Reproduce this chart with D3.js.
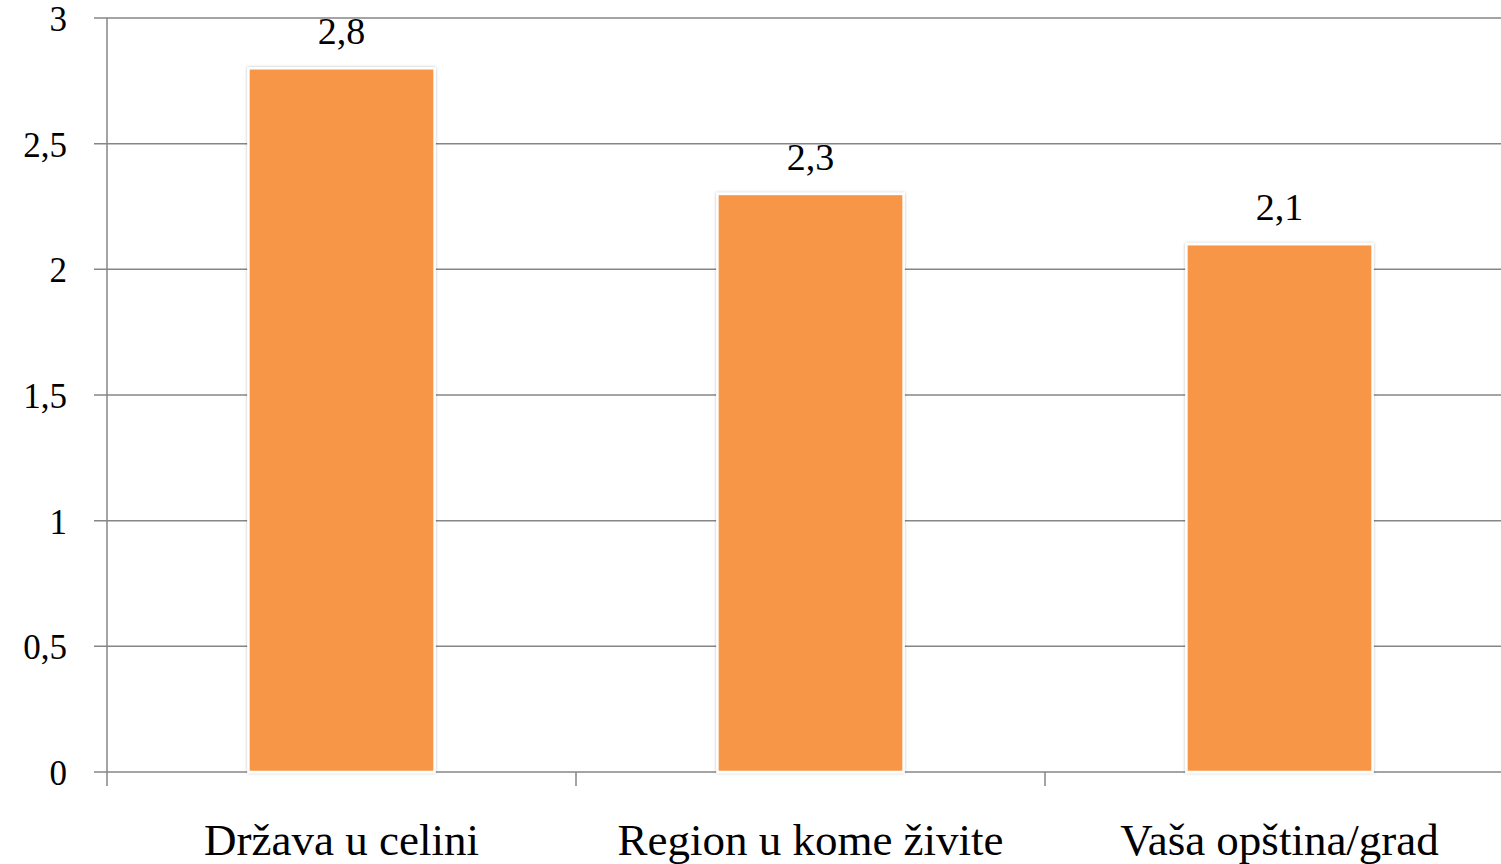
<!DOCTYPE html>
<html><head><meta charset="utf-8">
<script src="https://cdn.jsdelivr.net/npm/d3@7"></script>
<style>
html,body{margin:0;padding:0;background:#fff;overflow:hidden}
text{font-family:"Liberation Serif","DejaVu Serif",serif;fill:#000}
</style></head>
<body><svg id="c" width="1501" height="864"></svg>
<script>
const categories = ["Država u celini", "Region u kome živite", "Vaša opština/grad"];
const values = [2.8, 2.3, 2.1];
const yTicks = [0, 0.5, 1, 1.5, 2, 2.5, 3];
const fmt = v => String(v).replace(".", ",");

(function(){
const svg = d3.select("#c");
const plotLeft = 107, plotBottom = 772, plotTop = 18, bandW = 469;
const x = d3.scaleBand().domain(categories).range([plotLeft, plotLeft + bandW * categories.length]).padding(0);
const y = d3.scaleLinear().domain([0, 3]).range([plotBottom, plotTop]);
const barFrac = 0.397;

// gridlines
svg.append("g").selectAll("line").data(yTicks).join("line")
  .attr("x1", plotLeft - 13).attr("x2", 1501)
  .attr("y1", d => y(d)).attr("y2", d => y(d))
  .attr("stroke", "#868686").attr("stroke-width", 1.5);

// y axis line
svg.append("line").attr("x1", plotLeft).attr("x2", plotLeft).attr("y1", plotTop).attr("y2", plotBottom + 14)
  .attr("stroke", "#868686").attr("stroke-width", 1.5);

// x ticks
svg.append("g").selectAll("line").data(categories.slice(1)).join("line")
  .attr("x1", d => x(d)).attr("x2", d => x(d))
  .attr("y1", plotBottom).attr("y2", plotBottom + 14)
  .attr("stroke", "#868686").attr("stroke-width", 1.5);

// y labels
svg.append("g").selectAll("text").data(yTicks).join("text")
  .attr("x", 67).attr("y", d => y(d) + 13)
  .attr("text-anchor", "end").attr("font-size", 35)
  .text(d => fmt(d));

// shadow filter
const defs = svg.append("defs");
const f = defs.append("filter").attr("id", "sh").attr("x", "-10%").attr("y", "-10%").attr("width", "120%").attr("height", "120%");
f.append("feDropShadow").attr("dx", 0).attr("dy", 0).attr("stdDeviation", 1.5).attr("flood-color", "#000").attr("flood-opacity", 0.25);

// bars
const bw = x.bandwidth() * barFrac;
svg.append("g").selectAll("rect").data(values).join("rect")
  .attr("x", (d, i) => x(categories[i]) + (x.bandwidth() - bw) / 2)
  .attr("width", bw)
  .attr("y", d => y(d))
  .attr("height", d => plotBottom - y(d))
  .attr("fill", "#F79646").attr("stroke", "#fff").attr("stroke-width", 2.5)
  .attr("filter", "url(#sh)");

// value labels
svg.append("g").selectAll("text").data(values).join("text")
  .attr("x", (d, i) => x(categories[i]) + x.bandwidth() / 2)
  .attr("y", d => y(d) - 24)
  .attr("text-anchor", "middle").attr("font-size", 38)
  .text(d => fmt(d));

// category labels
svg.append("g").selectAll("text").data(categories).join("text")
  .attr("x", d => x(d) + x.bandwidth() / 2)
  .attr("y", 855)
  .attr("text-anchor", "middle").attr("font-size", 45)
  .text(d => d);
})();
</script></body></html>
